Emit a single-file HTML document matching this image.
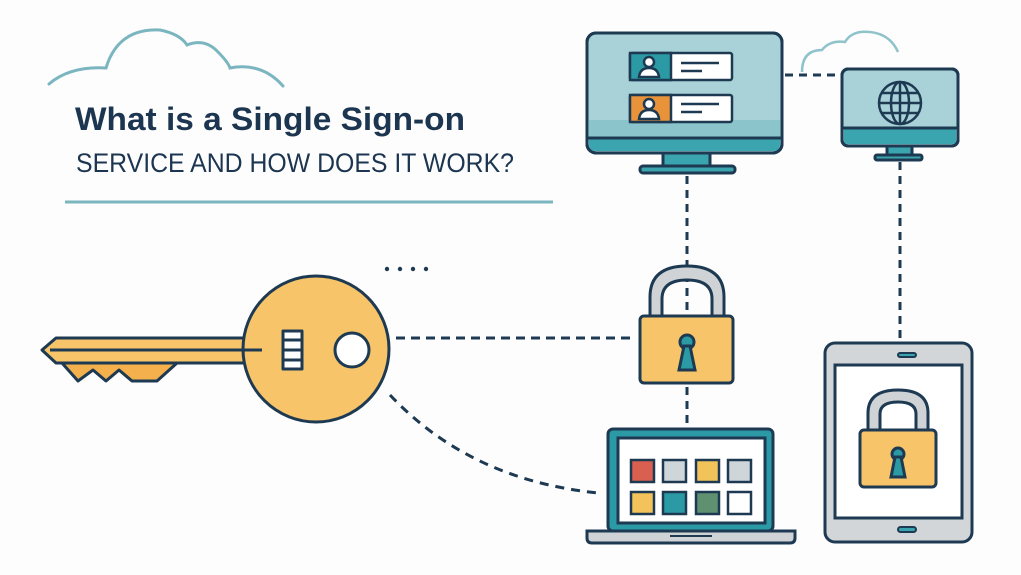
<!DOCTYPE html>
<html><head><meta charset="utf-8"><style>
html,body{margin:0;padding:0;background:#fdfdfd;}
svg{display:block}
</style></head><body>
<svg width="1021" height="575" viewBox="0 0 1021 575" xmlns="http://www.w3.org/2000/svg">
<rect width="1021" height="575" fill="#fdfdfd"/>
<!-- title cloud -->
<path d="M49 84 Q70 66 106 68 Q118 28 160 30 Q180 34 187 45 Q205 38 218 52 Q228 62 230 68 Q262 62 283 86" fill="none" stroke="#7ab5c0" stroke-width="3" stroke-linecap="round"/>
<text x="75" y="130" font-family="Liberation Sans, sans-serif" font-weight="bold" font-size="32" fill="#1c3550" textLength="390" lengthAdjust="spacingAndGlyphs">What is a Single Sign-on</text>
<text x="76" y="172" font-family="Liberation Sans, sans-serif" font-size="27" fill="#1c3550" textLength="438" lengthAdjust="spacingAndGlyphs">SERVICE AND HOW DOES IT WORK?</text>
<line x1="65" y1="202" x2="553" y2="202" stroke="#7ab5c0" stroke-width="3"/>

<g stroke="#1d3a52" stroke-width="3" fill="none">
<!-- dashed connectors -->
<line x1="785" y1="75" x2="840" y2="75" stroke-dasharray="8 6"/>
<line x1="687" y1="176" x2="687" y2="312" stroke-dasharray="8 6"/>
<line x1="687" y1="387" x2="687" y2="426" stroke-dasharray="8 6"/>
<line x1="900" y1="162" x2="900" y2="340" stroke-dasharray="8 6"/>
<line x1="396" y1="338" x2="636" y2="338" stroke-dasharray="9 6"/>
<path d="M390 395 Q470 480 598 493" stroke-dasharray="9 7"/>
</g>
<g fill="#1d3a52"><circle cx="387" cy="269" r="2.2"/><circle cx="400" cy="269" r="2.2"/><circle cx="413" cy="269" r="2.2"/><circle cx="426" cy="269" r="2.2"/></g>
<!-- small cloud -->
<path d="M802 72 Q802 50 822 50 Q830 40 845 42 Q852 30 870 32 Q890 34 898 52" fill="none" stroke="#8fc3cb" stroke-width="2.5"/>

<!-- big monitor -->
<g stroke="#1d3a52" stroke-width="3">
<rect x="663" y="152" width="47" height="16" fill="#3aa5ae"/>
<rect x="640" y="166" width="95" height="7" rx="3" fill="#3aa5ae"/>
<rect x="587" y="33" width="195" height="120" rx="9" fill="#a9d2d8"/>
</g>
<rect x="589" y="120" width="191" height="18" fill="#8cc4cc"/>
<path d="M589 138 H780 V144 Q780 151 773 151 H596 Q589 151 589 144Z" fill="#3aa5ae"/>
<line x1="588" y1="138" x2="781" y2="138" stroke="#1d3a52" stroke-width="3"/>
<rect x="587" y="33" width="195" height="120" rx="9" fill="none" stroke="#1d3a52" stroke-width="3"/>
<g stroke="#1d3a52" stroke-width="2.5">
<rect x="630" y="53" width="102" height="27" rx="2" fill="#fff"/>
<rect x="630" y="53" width="41" height="27" fill="#2b9aa5"/>
<rect x="630" y="95" width="102" height="27" rx="2" fill="#fff"/>
<rect x="630" y="95" width="41" height="27" fill="#e8923a"/>
<circle cx="649" cy="62" r="5" fill="#fff"/><path d="M639 77 Q640 68 649 68 Q658 68 659 77Z" fill="#fff"/>
<circle cx="649" cy="104" r="5" fill="#fff"/><path d="M639 119 Q640 110 649 110 Q658 110 659 119Z" fill="#fff"/>
<line x1="681" y1="63" x2="719" y2="63"/><line x1="681" y1="71" x2="702" y2="71"/>
<line x1="681" y1="104" x2="719" y2="104"/><line x1="681" y1="112" x2="702" y2="112"/>
</g>

<!-- small monitor -->
<g stroke="#1d3a52" stroke-width="3">
<rect x="887" y="145" width="25" height="11" fill="#3aa5ae"/>
<rect x="875" y="155" width="47" height="5" rx="2" fill="#3aa5ae"/>
<rect x="842" y="69" width="116" height="77" rx="6" fill="#a9d2d8"/>
</g>
<path d="M844 128 H956 V140 Q956 144 952 144 H848 Q844 144 844 140Z" fill="#3aa5ae"/>
<line x1="843" y1="128" x2="957" y2="128" stroke="#1d3a52" stroke-width="3"/>
<rect x="842" y="69" width="116" height="77" rx="6" fill="none" stroke="#1d3a52" stroke-width="3"/>
<g stroke="#1d3a52" stroke-width="2.5" fill="none">
<circle cx="900" cy="103" r="21"/><ellipse cx="900" cy="103" rx="9" ry="21"/>
<line x1="879" y1="103" x2="921" y2="103"/><line x1="882" y1="93" x2="918" y2="93"/><line x1="882" y1="113" x2="918" y2="113"/><line x1="900" y1="82" x2="900" y2="124"/>
</g>

<!-- padlock -->
<g stroke="#1d3a52" stroke-width="3">
<path d="M650 318 V297 Q650 266 687 266 Q724 266 724 297 V318 H712 V299 Q712 280 687 280 Q662 280 662 299 V318Z" fill="#cfd3d6"/>
<rect x="640" y="316" width="93" height="67" rx="4" fill="#f7c46a"/>
<circle cx="687" cy="342" r="7" fill="#2b9aa5"/>
<path d="M684 346 L679 370 H695 L690 346Z" fill="#2b9aa5"/>
</g>

<!-- key -->
<g stroke="#1d3a52" stroke-width="3" stroke-linejoin="round">
<path d="M62 363 L78 381 L93 370 L106 381 L119 370 L132 381 L157 381 L177 363Z" fill="#f4b04d"/>
<path d="M42 350 L56 338 H260 V363 H56 Z" fill="#f7c46a"/>
<circle cx="316" cy="349" r="73" fill="#f7c46a"/>
<path d="M250 338 H262 V363 H250Z" fill="#f7c46a" stroke="none"/>
<line x1="50" y1="350" x2="262" y2="350"/>
<rect x="283" y="331" width="19" height="38" fill="#fff"/>
<line x1="283" y1="340" x2="302" y2="340"/><line x1="283" y1="350" x2="302" y2="350"/><line x1="283" y1="360" x2="302" y2="360"/>
<circle cx="352" cy="350" r="17" fill="#fff"/>
</g>

<!-- laptop -->
<g stroke="#1d3a52" stroke-width="3">
<rect x="608" y="429" width="165" height="102" rx="5" fill="#2b9aa5"/>
<rect x="618" y="438" width="147" height="85" fill="#fff"/>
<path d="M587 531 H795 V538 Q795 543 790 543 H592 Q587 543 587 538Z" fill="#cfd3d6"/>
<g stroke-width="2.5">
<rect x="631" y="460" width="23" height="22" fill="#d95f50"/>
<rect x="663" y="460" width="23" height="22" fill="#cfd6da"/>
<rect x="696" y="460" width="23" height="22" fill="#f2c35a"/>
<rect x="728" y="460" width="23" height="22" fill="#cfd6da"/>
<rect x="631" y="492" width="23" height="22" fill="#f2c35a"/>
<rect x="663" y="492" width="23" height="22" fill="#2b9aa5"/>
<rect x="696" y="492" width="23" height="22" fill="#5f9171"/>
<rect x="728" y="492" width="23" height="22" fill="#fff"/>
</g>
</g>
<line x1="670" y1="536" x2="712" y2="536" stroke="#1d3a52" stroke-width="2"/>

<!-- tablet -->
<g stroke="#1d3a52" stroke-width="3">
<rect x="825" y="343" width="147" height="199" rx="10" fill="#d3d6d9"/>
<rect x="835" y="365" width="127" height="153" fill="#fff"/>
<rect x="898" y="353" width="18" height="4" rx="2" fill="#3aa5ae" stroke-width="2"/>
<rect x="898" y="527" width="18" height="5" rx="2.5" fill="#3aa5ae" stroke-width="2"/>
<path d="M868 432 V413 Q868 390 898 390 Q928 390 928 413 V432 H916 V414 Q916 402 898 402 Q880 402 880 414 V432Z" fill="#cfd3d6"/>
<rect x="860" y="430" width="76" height="57" rx="4" fill="#f7c46a"/>
<circle cx="898" cy="454" r="6" fill="#2b9aa5"/>
<path d="M895 457 L891 477 H905 L901 457Z" fill="#2b9aa5"/>
</g>
</svg>
</body></html>
